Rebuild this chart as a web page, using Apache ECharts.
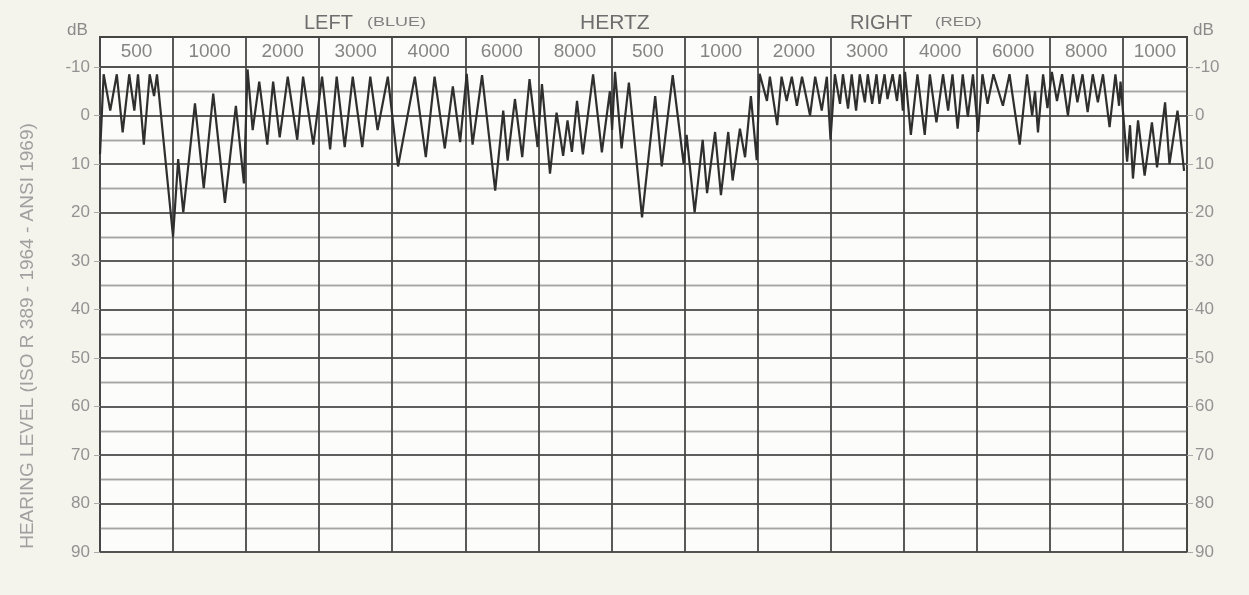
<!DOCTYPE html>
<html>
<head>
<meta charset="utf-8">
<script src="https://cdn.jsdelivr.net/npm/echarts@6/dist/echarts.min.js"></script>
<style>
html,body{margin:0;padding:0;background:#f5f4ec;}
#chart{width:1249px;height:595px;}
</style>
</head>
<body>
<div id="chart"></div>
<script>
// Column (frequency) labels, left ear then right ear
const columnLabels = ['500','1000','2000','3000','4000','6000','8000','500','1000','2000','3000','4000','6000','8000','1000'];
// x axis extent in column units (last column is narrower)
const xMax = 14.88;
// Trace: position in column units and hearing level in dB
const traceX = [
  0.00,0.05,0.14,0.23,0.31,0.40,0.47,0.52,0.60,0.68,0.74,0.78,
  1.00,1.07,1.14,1.30,1.42,1.55,1.71,1.86,1.97,
  2.02,2.09,2.18,2.29,2.37,2.46,2.57,2.70,2.78,2.92,
  3.04,3.15,3.24,3.35,3.46,3.59,3.70,3.80,3.94,
  4.08,4.31,4.46,4.58,4.72,4.83,4.93,
  5.02,5.10,5.23,5.41,5.52,5.58,5.68,5.78,5.88,5.99,
  6.05,6.16,6.25,6.34,6.40,6.46,6.53,6.61,6.75,6.87,6.98,
  7.01,7.05,7.14,7.24,7.42,7.60,7.69,7.84,7.99,
  8.03,8.14,8.25,8.31,8.42,8.50,8.60,8.66,8.76,8.83,8.91,8.99,
  9.03,9.13,9.17,9.27,9.33,9.40,9.47,9.54,9.61,9.72,9.79,9.88,9.95,
  10.00,10.06,10.13,10.17,10.24,10.29,10.35,10.40,10.47,10.51,10.57,10.63,10.67,10.74,10.78,10.85,10.91,10.95,10.99,
  11.02,11.10,11.19,11.29,11.36,11.45,11.54,11.61,11.67,11.74,11.81,11.88,11.95,
  12.02,12.08,12.15,12.23,12.36,12.45,12.59,12.69,12.76,12.80,12.84,12.91,12.97,
  13.03,13.10,13.17,13.25,13.32,13.38,13.45,13.52,13.59,13.66,13.73,13.82,13.90,13.95,13.97,
  14.06,14.10,14.14,14.21,14.30,14.40,14.47,14.58,14.64,14.75,14.84
];
const traceDB = [
  8,-8.5,-1,-8.5,3.5,-8.5,-1,-8.5,6,-8.5,-4,-8.5,
  25,9,20,-2.5,15,-4.5,18,-2,14,
  -9.5,3,-7,6,-7,4.5,-8,5,-8,6,
  -8,7,-8,6.5,-8,6.5,-8,3,-8,
  10.5,-8,8.6,-8,6.8,-6,5.5,
  -8.6,6,-8.3,15.5,-1,9.3,-3.4,8.6,-7.5,6.5,
  -6.5,12,-0.6,8.3,1,7.5,-3,8,-8.5,7.6,-5,
  3,-9,6.8,-6.8,21,-4,10.5,-8.3,10,
  4,20,5,16,3.4,16.4,3.4,13.4,2.7,8.6,-4,9.2,
  -8.6,-3,-8,2,-8,-3,-8,-2,-8,0,-8,-1,-8,
  5,-8.5,-2.4,-8.5,-1.4,-8.5,-1,-8.5,-2.7,-8.5,-2.4,-8.5,-2.4,-8.5,-3.4,-8.5,-3,-8.5,-1,
  -9,4,-8.5,4,-8.5,1.4,-8.5,-1,-8.5,2.7,-8.5,0.3,-8.5,
  3.4,-8.5,-2.4,-8.5,-2,-8.5,6,-8.5,0,-5,3.5,-8.5,-1.5,
  -9,-3,-8.5,0,-8.5,-2.7,-8.5,-0.7,-8.5,-2.7,-8.5,2.4,-8.5,-2,-7,
  9.5,2,13,1,12.4,1.4,10.7,-2.7,10,-1,11.4
];

const traceData = traceX.map((x, i) => [x, traceDB[i]]);
const headerData = columnLabels.map((lab, i) => [(i + Math.min(i + 1, xMax)) / 2, 0.5, lab]);

const chart = echarts.init(document.getElementById('chart'), null, {renderer: 'canvas'});

const fontFam = 'Liberation Sans, DejaVu Sans, sans-serif';
const yAxisBase = {
  gridIndex: 0, type: 'value', inverse: true, min: -10, max: 90, interval: 10,
  axisLine: {show: false},
  axisTick: {show: true, length: 6, lineStyle: {color: '#aaa', width: 1}},
  axisLabel: {color: '#929292', fontSize: 17, fontFamily: fontFam},
  splitLine: {show: true, lineStyle: {color: '#555', width: 1.7}},
  minorTick: {show: true, splitNumber: 2, length: 0},
  minorSplitLine: {show: true, lineStyle: {color: '#a5a5a5', width: 1.3}}
};

const option = {
  backgroundColor: '#f5f4ec',
  animation: false,
  grid: [
    {left: 100, right: 62, top: 67, bottom: 43, show: true, backgroundColor: '#fcfcfa', borderColor: '#444', borderWidth: 2, containLabel: false},
    {left: 100, right: 62, top: 37, height: 30, show: true, backgroundColor: '#fcfcfa', borderColor: '#444', borderWidth: 2, containLabel: false}
  ],
  xAxis: [
    {gridIndex: 0, type: 'value', min: 0, max: xMax, interval: 1,
     axisLine: {show: false}, axisTick: {show: false}, axisLabel: {show: false},
     splitLine: {show: true, lineStyle: {color: '#484848', width: 1.8}}},
    {gridIndex: 1, type: 'value', min: 0, max: xMax, interval: 1,
     axisLine: {show: false}, axisTick: {show: false}, axisLabel: {show: false},
     splitLine: {show: true, lineStyle: {color: '#484848', width: 1.8}}}
  ],
  yAxis: [
    Object.assign({}, yAxisBase, {position: 'left', axisLabel: Object.assign({}, yAxisBase.axisLabel, {margin: 10})}),
    Object.assign({}, yAxisBase, {position: 'right', axisLabel: Object.assign({}, yAxisBase.axisLabel, {margin: 8})}),
    {gridIndex: 1, type: 'value', min: 0, max: 1, show: false}
  ],
  series: [
    {
      type: 'line', xAxisIndex: 0, yAxisIndex: 0, data: traceData,
      showSymbol: false, symbol: 'none', smooth: false,
      lineStyle: {color: '#2f2f2f', width: 2.2}, z: 5
    },
    {
      type: 'scatter', xAxisIndex: 1, yAxisIndex: 2, data: headerData,
      symbolSize: 0, silent: true,
      label: {show: true, position: 'inside', formatter: p => p.value[2],
              color: '#666', fontSize: 19, fontFamily: fontFam}
    }
  ],
  graphic: [
    {type: 'text', left: 304, top: 13, style: {text: 'LEFT', fill: '#6e6e6e', fontSize: 20, fontFamily: fontFam}},
    {type: 'text', left: 367, top: 17, scaleX: 1.5, style: {text: '(BLUE)', fill: '#808080', fontSize: 12, fontFamily: fontFam}},
    {type: 'text', left: 580, top: 13, style: {text: 'HERTZ', fill: '#6e6e6e', fontSize: 21, fontFamily: fontFam}},
    {type: 'text', left: 850, top: 13, style: {text: 'RIGHT', fill: '#6e6e6e', fontSize: 20, fontFamily: fontFam}},
    {type: 'text', left: 935, top: 17, scaleX: 1.4, style: {text: '(RED)', fill: '#808080', fontSize: 12, fontFamily: fontFam}},
    {type: 'text', left: 67, top: 22, style: {text: 'dB', fill: '#8a8a8a', fontSize: 17, fontFamily: fontFam}},
    {type: 'text', left: 1193, top: 22, style: {text: 'dB', fill: '#8a8a8a', fontSize: 17, fontFamily: fontFam}},
    {type: 'text', x: 28, y: 336, rotation: Math.PI / 2,
     style: {text: 'HEARING LEVEL (ISO R 389 - 1964 - ANSI 1969)', fill: '#a0a0a0', fontSize: 19,
             fontFamily: fontFam, align: 'center', verticalAlign: 'middle'}}
  ]
};
chart.setOption(option);
</script>
</body>
</html>
